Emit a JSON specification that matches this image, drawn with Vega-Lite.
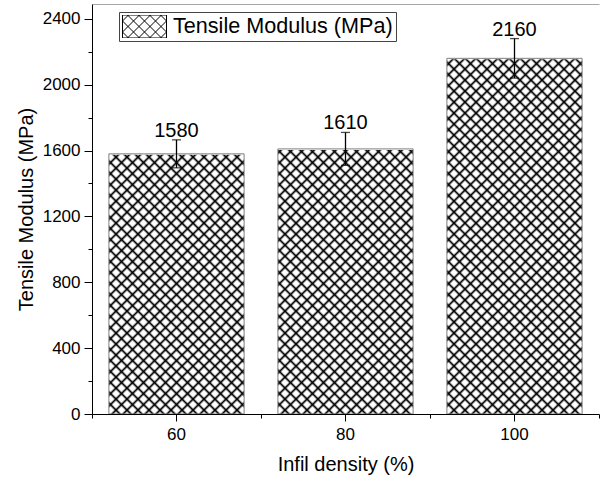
{
  "$schema": "https://vega.github.io/schema/vega-lite/v6.json",
  "width": 507,
  "height": 410,
  "autosize": {"type": "none"},
  "padding": {"left": 92, "top": 4, "right": 1, "bottom": 67},
  "background": "white",
  "config": {"view": {"stroke": null}, "font": "Liberation Sans"},
  "data": {
    "values": [
      {"density": 60, "modulus": 1580, "lower": 1495, "upper": 1665},
      {"density": 80, "modulus": 1610, "lower": 1510, "upper": 1710},
      {"density": 100, "modulus": 2160, "lower": 2040, "upper": 2280}
    ]
  },
  "resolve": {"scale": {"x": "independent"}, "axis": {"x": "independent", "y": "independent"}},
  "layer": [
    {
      "mark": {
        "type": "bar",
        "stroke": null,
        "fill": {
          "gradient": "linear", "x1": 0, "y1": 1, "x2": 0.453, "y2": -0.2056,
          "stops": [
            {"offset":0.0172,"color":"transparent"},{"offset":0.0222,"color":"#000"},{"offset":0.0272,"color":"transparent"},
            {"offset":0.0394,"color":"transparent"},{"offset":0.0444,"color":"#000"},{"offset":0.0494,"color":"transparent"},
            {"offset":0.0617,"color":"transparent"},{"offset":0.0667,"color":"#000"},{"offset":0.0717,"color":"transparent"},
            {"offset":0.0839,"color":"transparent"},{"offset":0.0889,"color":"#000"},{"offset":0.0939,"color":"transparent"},
            {"offset":0.1061,"color":"transparent"},{"offset":0.1111,"color":"#000"},{"offset":0.1161,"color":"transparent"},
            {"offset":0.1283,"color":"transparent"},{"offset":0.1333,"color":"#000"},{"offset":0.1383,"color":"transparent"},
            {"offset":0.1506,"color":"transparent"},{"offset":0.1556,"color":"#000"},{"offset":0.1606,"color":"transparent"},
            {"offset":0.1728,"color":"transparent"},{"offset":0.1778,"color":"#000"},{"offset":0.1828,"color":"transparent"},
            {"offset":0.195,"color":"transparent"},{"offset":0.2,"color":"#000"},{"offset":0.205,"color":"transparent"},
            {"offset":0.2172,"color":"transparent"},{"offset":0.2222,"color":"#000"},{"offset":0.2272,"color":"transparent"},
            {"offset":0.2394,"color":"transparent"},{"offset":0.2444,"color":"#000"},{"offset":0.2494,"color":"transparent"},
            {"offset":0.2617,"color":"transparent"},{"offset":0.2667,"color":"#000"},{"offset":0.2717,"color":"transparent"},
            {"offset":0.2839,"color":"transparent"},{"offset":0.2889,"color":"#000"},{"offset":0.2939,"color":"transparent"},
            {"offset":0.3061,"color":"transparent"},{"offset":0.3111,"color":"#000"},{"offset":0.3161,"color":"transparent"},
            {"offset":0.3283,"color":"transparent"},{"offset":0.3333,"color":"#000"},{"offset":0.3383,"color":"transparent"},
            {"offset":0.3506,"color":"transparent"},{"offset":0.3556,"color":"#000"},{"offset":0.3606,"color":"transparent"},
            {"offset":0.3728,"color":"transparent"},{"offset":0.3778,"color":"#000"},{"offset":0.3828,"color":"transparent"},
            {"offset":0.395,"color":"transparent"},{"offset":0.4,"color":"#000"},{"offset":0.405,"color":"transparent"},
            {"offset":0.4172,"color":"transparent"},{"offset":0.4222,"color":"#000"},{"offset":0.4272,"color":"transparent"},
            {"offset":0.4394,"color":"transparent"},{"offset":0.4444,"color":"#000"},{"offset":0.4494,"color":"transparent"},
            {"offset":0.4617,"color":"transparent"},{"offset":0.4667,"color":"#000"},{"offset":0.4717,"color":"transparent"},
            {"offset":0.4839,"color":"transparent"},{"offset":0.4889,"color":"#000"},{"offset":0.4939,"color":"transparent"},
            {"offset":0.5061,"color":"transparent"},{"offset":0.5111,"color":"#000"},{"offset":0.5161,"color":"transparent"},
            {"offset":0.5283,"color":"transparent"},{"offset":0.5333,"color":"#000"},{"offset":0.5383,"color":"transparent"},
            {"offset":0.5506,"color":"transparent"},{"offset":0.5556,"color":"#000"},{"offset":0.5606,"color":"transparent"},
            {"offset":0.5728,"color":"transparent"},{"offset":0.5778,"color":"#000"},{"offset":0.5828,"color":"transparent"},
            {"offset":0.595,"color":"transparent"},{"offset":0.6,"color":"#000"},{"offset":0.605,"color":"transparent"},
            {"offset":0.6172,"color":"transparent"},{"offset":0.6222,"color":"#000"},{"offset":0.6272,"color":"transparent"},
            {"offset":0.6394,"color":"transparent"},{"offset":0.6444,"color":"#000"},{"offset":0.6494,"color":"transparent"},
            {"offset":0.6617,"color":"transparent"},{"offset":0.6667,"color":"#000"},{"offset":0.6717,"color":"transparent"},
            {"offset":0.6839,"color":"transparent"},{"offset":0.6889,"color":"#000"},{"offset":0.6939,"color":"transparent"},
            {"offset":0.7061,"color":"transparent"},{"offset":0.7111,"color":"#000"},{"offset":0.7161,"color":"transparent"},
            {"offset":0.7283,"color":"transparent"},{"offset":0.7333,"color":"#000"},{"offset":0.7383,"color":"transparent"},
            {"offset":0.7506,"color":"transparent"},{"offset":0.7556,"color":"#000"},{"offset":0.7606,"color":"transparent"},
            {"offset":0.7728,"color":"transparent"},{"offset":0.7778,"color":"#000"},{"offset":0.7828,"color":"transparent"},
            {"offset":0.795,"color":"transparent"},{"offset":0.8,"color":"#000"},{"offset":0.805,"color":"transparent"},
            {"offset":0.8172,"color":"transparent"},{"offset":0.8222,"color":"#000"},{"offset":0.8272,"color":"transparent"},
            {"offset":0.8394,"color":"transparent"},{"offset":0.8444,"color":"#000"},{"offset":0.8494,"color":"transparent"},
            {"offset":0.8617,"color":"transparent"},{"offset":0.8667,"color":"#000"},{"offset":0.8717,"color":"transparent"},
            {"offset":0.8839,"color":"transparent"},{"offset":0.8889,"color":"#000"},{"offset":0.8939,"color":"transparent"},
            {"offset":0.9061,"color":"transparent"},{"offset":0.9111,"color":"#000"},{"offset":0.9161,"color":"transparent"},
            {"offset":0.9283,"color":"transparent"},{"offset":0.9333,"color":"#000"},{"offset":0.9383,"color":"transparent"},
            {"offset":0.9506,"color":"transparent"},{"offset":0.9556,"color":"#000"},{"offset":0.9606,"color":"transparent"},
            {"offset":0.9728,"color":"transparent"},{"offset":0.9778,"color":"#000"},{"offset":0.9828,"color":"transparent"}
          ]
        }
      },
      "encoding": {
        "x": {
          "field": "density", "type": "ordinal",
          "scale": {"paddingInner": 0.2, "paddingOuter": 0.1},
          "axis": {
            "orient": "bottom", "title": "Infil density (%)",
            "titleFont": "Liberation Sans", "titleFontSize": 20, "titleFontWeight": "normal", "titleColor": "black", "titlePadding": 12,
            "labelFont": "Liberation Sans", "labelFontSize": 17, "labelColor": "black", "labelAngle": 0, "labelPadding": 5,
            "tickSize": 7, "tickColor": "black", "tickWidth": 1, "domainColor": "black", "domainWidth": 1, "grid": false, "zindex": 1
          }
        },
        "y": {
          "datum": 0, "type": "quantitative",
          "scale": {"domain": [0, 2490], "nice": false},
          "axis": {
            "orient": "left",
            "values": [0, 200, 400, 600, 800, 1000, 1200, 1400, 1600, 1800, 2000, 2200, 2400],
            "format": "d",
            "labelExpr": "datum.value % 400 === 0 ? datum.label : ''",
            "tickSize": {"condition": {"test": "datum.value % 400 === 0", "value": 8}, "value": 4},
            "title": "Tensile Modulus (MPa)",
            "titleFont": "Liberation Sans", "titleFontSize": 20, "titleFontWeight": "normal", "titleColor": "black", "titlePadding": 6,
            "labelFont": "Liberation Sans", "labelFontSize": 17, "labelColor": "black", "labelPadding": 4, "labelOverlap": false,
            "tickColor": "black", "tickWidth": 1, "domainColor": "black", "domainWidth": 1, "grid": false, "zindex": 1
          }
        },
        "y2": {"datum": 2185}
      }
    },
    {
      "mark": {
        "type": "bar",
        "stroke": null,
        "fill": {
          "gradient": "linear", "x1": 0, "y1": 0, "x2": 0.453, "y2": 1.2056,
          "stops": [
            {"offset":0.0172,"color":"transparent"},{"offset":0.0222,"color":"#000"},{"offset":0.0272,"color":"transparent"},
            {"offset":0.0394,"color":"transparent"},{"offset":0.0444,"color":"#000"},{"offset":0.0494,"color":"transparent"},
            {"offset":0.0617,"color":"transparent"},{"offset":0.0667,"color":"#000"},{"offset":0.0717,"color":"transparent"},
            {"offset":0.0839,"color":"transparent"},{"offset":0.0889,"color":"#000"},{"offset":0.0939,"color":"transparent"},
            {"offset":0.1061,"color":"transparent"},{"offset":0.1111,"color":"#000"},{"offset":0.1161,"color":"transparent"},
            {"offset":0.1283,"color":"transparent"},{"offset":0.1333,"color":"#000"},{"offset":0.1383,"color":"transparent"},
            {"offset":0.1506,"color":"transparent"},{"offset":0.1556,"color":"#000"},{"offset":0.1606,"color":"transparent"},
            {"offset":0.1728,"color":"transparent"},{"offset":0.1778,"color":"#000"},{"offset":0.1828,"color":"transparent"},
            {"offset":0.195,"color":"transparent"},{"offset":0.2,"color":"#000"},{"offset":0.205,"color":"transparent"},
            {"offset":0.2172,"color":"transparent"},{"offset":0.2222,"color":"#000"},{"offset":0.2272,"color":"transparent"},
            {"offset":0.2394,"color":"transparent"},{"offset":0.2444,"color":"#000"},{"offset":0.2494,"color":"transparent"},
            {"offset":0.2617,"color":"transparent"},{"offset":0.2667,"color":"#000"},{"offset":0.2717,"color":"transparent"},
            {"offset":0.2839,"color":"transparent"},{"offset":0.2889,"color":"#000"},{"offset":0.2939,"color":"transparent"},
            {"offset":0.3061,"color":"transparent"},{"offset":0.3111,"color":"#000"},{"offset":0.3161,"color":"transparent"},
            {"offset":0.3283,"color":"transparent"},{"offset":0.3333,"color":"#000"},{"offset":0.3383,"color":"transparent"},
            {"offset":0.3506,"color":"transparent"},{"offset":0.3556,"color":"#000"},{"offset":0.3606,"color":"transparent"},
            {"offset":0.3728,"color":"transparent"},{"offset":0.3778,"color":"#000"},{"offset":0.3828,"color":"transparent"},
            {"offset":0.395,"color":"transparent"},{"offset":0.4,"color":"#000"},{"offset":0.405,"color":"transparent"},
            {"offset":0.4172,"color":"transparent"},{"offset":0.4222,"color":"#000"},{"offset":0.4272,"color":"transparent"},
            {"offset":0.4394,"color":"transparent"},{"offset":0.4444,"color":"#000"},{"offset":0.4494,"color":"transparent"},
            {"offset":0.4617,"color":"transparent"},{"offset":0.4667,"color":"#000"},{"offset":0.4717,"color":"transparent"},
            {"offset":0.4839,"color":"transparent"},{"offset":0.4889,"color":"#000"},{"offset":0.4939,"color":"transparent"},
            {"offset":0.5061,"color":"transparent"},{"offset":0.5111,"color":"#000"},{"offset":0.5161,"color":"transparent"},
            {"offset":0.5283,"color":"transparent"},{"offset":0.5333,"color":"#000"},{"offset":0.5383,"color":"transparent"},
            {"offset":0.5506,"color":"transparent"},{"offset":0.5556,"color":"#000"},{"offset":0.5606,"color":"transparent"},
            {"offset":0.5728,"color":"transparent"},{"offset":0.5778,"color":"#000"},{"offset":0.5828,"color":"transparent"},
            {"offset":0.595,"color":"transparent"},{"offset":0.6,"color":"#000"},{"offset":0.605,"color":"transparent"},
            {"offset":0.6172,"color":"transparent"},{"offset":0.6222,"color":"#000"},{"offset":0.6272,"color":"transparent"},
            {"offset":0.6394,"color":"transparent"},{"offset":0.6444,"color":"#000"},{"offset":0.6494,"color":"transparent"},
            {"offset":0.6617,"color":"transparent"},{"offset":0.6667,"color":"#000"},{"offset":0.6717,"color":"transparent"},
            {"offset":0.6839,"color":"transparent"},{"offset":0.6889,"color":"#000"},{"offset":0.6939,"color":"transparent"},
            {"offset":0.7061,"color":"transparent"},{"offset":0.7111,"color":"#000"},{"offset":0.7161,"color":"transparent"},
            {"offset":0.7283,"color":"transparent"},{"offset":0.7333,"color":"#000"},{"offset":0.7383,"color":"transparent"},
            {"offset":0.7506,"color":"transparent"},{"offset":0.7556,"color":"#000"},{"offset":0.7606,"color":"transparent"},
            {"offset":0.7728,"color":"transparent"},{"offset":0.7778,"color":"#000"},{"offset":0.7828,"color":"transparent"},
            {"offset":0.795,"color":"transparent"},{"offset":0.8,"color":"#000"},{"offset":0.805,"color":"transparent"},
            {"offset":0.8172,"color":"transparent"},{"offset":0.8222,"color":"#000"},{"offset":0.8272,"color":"transparent"},
            {"offset":0.8394,"color":"transparent"},{"offset":0.8444,"color":"#000"},{"offset":0.8494,"color":"transparent"},
            {"offset":0.8617,"color":"transparent"},{"offset":0.8667,"color":"#000"},{"offset":0.8717,"color":"transparent"},
            {"offset":0.8839,"color":"transparent"},{"offset":0.8889,"color":"#000"},{"offset":0.8939,"color":"transparent"},
            {"offset":0.9061,"color":"transparent"},{"offset":0.9111,"color":"#000"},{"offset":0.9161,"color":"transparent"},
            {"offset":0.9283,"color":"transparent"},{"offset":0.9333,"color":"#000"},{"offset":0.9383,"color":"transparent"},
            {"offset":0.9506,"color":"transparent"},{"offset":0.9556,"color":"#000"},{"offset":0.9606,"color":"transparent"},
            {"offset":0.9728,"color":"transparent"},{"offset":0.9778,"color":"#000"},{"offset":0.9828,"color":"transparent"}
          ]
        }
      },
      "encoding": {
        "x": {
          "field": "density", "type": "ordinal",
          "scale": {"paddingInner": 0.2, "paddingOuter": 0.1},
          "axis": {"orient": "top", "ticks": false, "labels": false, "title": null, "domainColor": "#a6a6a6", "domainWidth": 1, "grid": false, "zindex": 1}
        },
        "y": {"datum": 0, "type": "quantitative", "scale": {"domain": [0, 2490], "nice": false}, "axis": null},
        "y2": {"datum": 2185}
      }
    },
    {
      "mark": {"type": "bar", "stroke": "white", "strokeWidth": 2},
      "encoding": {
        "x": {"field": "density", "type": "ordinal", "scale": {"paddingInner": 0.2, "paddingOuter": 0.1}, "axis": null},
        "y": {"field": "modulus", "type": "quantitative", "scale": {"domain": [0, 2490], "nice": false}, "axis": null},
        "y2": {"datum": 2185},
        "fill": {
          "datum": "Tensile Modulus (MPa)", "type": "nominal",
          "scale": {"range": ["white"]},
          "legend": {
            "title": null, "orient": "none", "legendX": 27, "legendY": 8,
            "symbolType": "M-1,-0.5227H1V0.5227H-1ZM-1,0.25L-0.7273,0.5227M-1,-0.25L-0.2273,0.5227M-0.7727,-0.5227L0.2727,0.5227M-0.2727,-0.5227L0.7727,0.5227M0.2273,-0.5227L1,0.25M0.7273,-0.5227L1,-0.25M-1,-0.25L-0.7273,-0.5227M-1,0.25L-0.2273,-0.5227M-0.7727,0.5227L0.2727,-0.5227M-0.2727,0.5227L0.7727,-0.5227M0.2273,0.5227L1,-0.25M0.7273,0.5227L1,0.25",
            "symbolSize": 1936, "clipHeight": 23,
            "symbolStrokeColor": "black", "symbolStrokeWidth": 1, "symbolFillColor": "white",
            "labelFont": "Liberation Sans", "labelFontSize": 21.6, "labelColor": "black", "labelOffset": 6, "labelLimit": 400,
            "padding": 3, "strokeColor": "#444", "fillColor": "white", "zindex": 2,
            "encode": {"symbols": {"update": {"stroke": {"value": "black"}, "strokeWidth": {"value": 1}, "fill": {"value": "white"}}}}
          }
        }
      }
    },
    {
      "mark": {"type": "bar", "fillOpacity": 0, "stroke": "#808080", "strokeWidth": 1},
      "encoding": {
        "x": {"field": "density", "type": "ordinal", "scale": {"paddingInner": 0.2, "paddingOuter": 0.1}, "axis": null},
        "y": {"field": "modulus", "type": "quantitative", "scale": {"domain": [0, 2490], "nice": false}, "axis": null}
      }
    },
    {
      "mark": {"type": "errorbar", "color": "black", "thickness": 1.3, "ticks": {"size": 9}},
      "encoding": {
        "x": {"field": "density", "type": "ordinal", "scale": {"paddingInner": 0.2, "paddingOuter": 0.1}, "axis": null},
        "y": {"field": "lower", "type": "quantitative", "scale": {"domain": [0, 2490], "nice": false}, "axis": null},
        "y2": {"field": "upper"}
      }
    },
    {
      "mark": {"type": "text", "baseline": "alphabetic", "dy": -3, "fontSize": 20, "font": "Liberation Sans", "color": "black"},
      "encoding": {
        "x": {
          "field": "density", "type": "ordinal",
          "scale": {"paddingInner": 0, "paddingOuter": 0},
          "axis": {"orient": "bottom", "tickBand": "extent", "tickSize": 4, "tickColor": "black", "labels": false, "domain": false, "title": null, "grid": false, "zindex": 1}
        },
        "y": {"field": "upper", "type": "quantitative", "scale": {"domain": [0, 2490], "nice": false}, "axis": null},
        "text": {"field": "modulus", "type": "quantitative", "format": "d"}
      }
    }
  ]
}
